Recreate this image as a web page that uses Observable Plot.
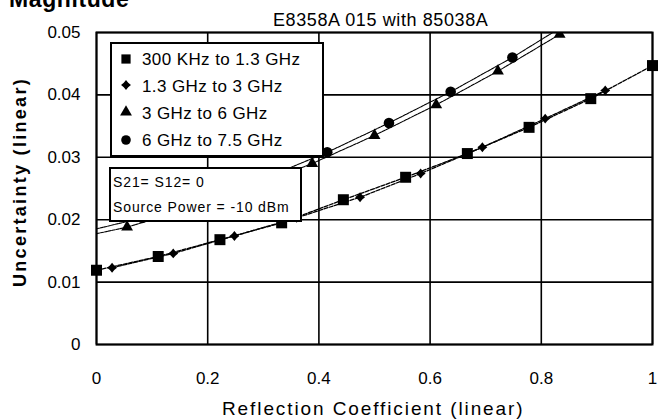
<!DOCTYPE html>
<html><head><meta charset="utf-8">
<script src="https://cdn.jsdelivr.net/npm/d3@7"></script>
<script src="https://cdn.jsdelivr.net/npm/@observablehq/plot@0.6"></script>
<style>
body{margin:0;background:#fff;}
#wrap{position:relative;width:660px;height:419px;overflow:hidden;font-family:"Liberation Sans",Arial,sans-serif;color:#000;background:#fff;}
#wrap svg.plot{position:absolute;left:0;top:0;}
.abs{position:absolute;white-space:nowrap;line-height:1;}
.box{position:absolute;box-sizing:border-box;border:2px solid #000;background:#fff;}
</style></head><body><div id="wrap"></div>
<script>
// ---- data ----
const seriesNames = ["300 KHz to 1.3 GHz", "1.3 GHz to 3 GHz", "3 GHz to 6 GHz", "6 GHz to 7.5 GHz"];
const xTicks = [0, 0.2, 0.4, 0.6, 0.8, 1];
const yTicks = [0, 0.01, 0.02, 0.03, 0.04, 0.05];
// 300 KHz to 1.3 GHz (squares)
const sqX = [0, 0.111, 0.222, 0.333, 0.444, 0.556, 0.667, 0.778, 0.889, 1.0];
const sqY = [0.0119, 0.0141, 0.0168, 0.0195, 0.0232, 0.0268, 0.0306, 0.0348, 0.0394, 0.0447];
// 1.3 GHz to 3 GHz (diamonds)
const diX = [0.028, 0.138, 0.248, 0.36, 0.474, 0.583, 0.694, 0.807, 0.915];
const diY = [0.0123, 0.0146, 0.0174, 0.0203, 0.0236, 0.0274, 0.0316, 0.0362, 0.0407];
// 3 GHz to 6 GHz (triangles)
const triX = [-0.056, 0.055, 0.166, 0.277, 0.388, 0.5, 0.611, 0.722, 0.833];
const triY = [0.0167, 0.0188, 0.0218, 0.0252, 0.029, 0.0335, 0.0384, 0.0438, 0.0497];
// 6 GHz to 7.5 GHz (circles)
const cirX = [-0.029, 0.082, 0.193, 0.304, 0.415, 0.526, 0.637, 0.748, 0.859];
const cirY = [0.0179, 0.0203, 0.0233, 0.0267, 0.0308, 0.0355, 0.0405, 0.046, 0.0521];

const titleText = "Magnitude";
const subtitleText = "E8358A 015 with 85038A";
const xLabel = "Reflection Coefficient (linear)";
const yLabel = "Uncertainty (linear)";
const notes = ["S21= S12= 0", "Source Power = -10 dBm"];

// ---- helpers ----
const toRows = (xs, ys) => xs.map((x, i) => ({x, y: ys[i]}));
const star4 = {
  draw(ctx, size) {
    const r = Math.sqrt(size / Math.PI) * 1.6, i = r * 0.45;
    ctx.moveTo(0, -r); ctx.lineTo(i, -i); ctx.lineTo(r, 0); ctx.lineTo(i, i);
    ctx.lineTo(0, r); ctx.lineTo(-i, i); ctx.lineTo(-r, 0); ctx.lineTo(-i, -i); ctx.closePath();
  }
};
const series = [
  {rows: toRows(sqX, sqY), symbol: "square", r: 6.2, dash: "4,1.5", sw: 1.3, clip: false},
  {rows: toRows(diX, diY), symbol: star4, r: 3.1, dash: "4,1.5", sw: 1.3, clip: false},
  {rows: toRows(triX, triY), symbol: "triangle", r: 4.4, dash: "3,1", sw: 1.1, clip: true},
  {rows: toRows(cirX, cirY), symbol: "circle", r: 5.3, dash: "3,1", sw: 1.1, clip: true}
];

const marks = [
  Plot.gridX(xTicks, {stroke: "#000", strokeOpacity: 1, strokeWidth: 1.6}),
  Plot.gridY(yTicks, {stroke: "#000", strokeOpacity: 1, strokeWidth: 1.6})
];
for (const s of series) {
  marks.push(Plot.line(s.rows, {x: "x", y: "y", stroke: "#000", strokeWidth: s.sw, strokeDasharray: s.dash, clip: s.clip}));
}
for (const s of series) {
  marks.push(Plot.dot(s.rows, {x: "x", y: "y", symbol: s.symbol, r: s.r, fill: "#000", stroke: "none", clip: s.clip}));
}
marks.push(Plot.frame({stroke: "#000", strokeWidth: 2}));

const chart = Plot.plot({
  width: 660, height: 419,
  marginLeft: 96, marginRight: 8, marginTop: 32, marginBottom: 75,
  style: {fontFamily: "Liberation Sans, Arial, sans-serif", fontSize: "17px", color: "#000", background: "transparent"},
  x: {domain: [0, 1], ticks: xTicks, tickSize: 0, tickPadding: 27, label: null, tickFormat: d => String(d)},
  y: {domain: [0, 0.05], ticks: yTicks, tickSize: 0, tickPadding: 16, label: null, tickFormat: d => String(d)},
  marks
});
chart.classList.add("plot");
const wrap = document.getElementById("wrap");
wrap.appendChild(chart);

function addText(text, left, baseline, size, opts = {}) {
  const d = document.createElement("div");
  d.className = "abs";
  d.textContent = text;
  d.style.fontSize = size + "px";
  d.style.left = left + "px";
  d.style.top = (baseline - 0.8465 * size) + "px";
  if (opts.bold) d.style.fontWeight = "bold";
  if (opts.ls) d.style.letterSpacing = opts.ls + "px";
  wrap.appendChild(d);
  return d;
}
function addBox(l, t, r, b) {
  const d = document.createElement("div");
  d.className = "box";
  Object.assign(d.style, {left: l + "px", top: t + "px", width: (r - l) + "px", height: (b - t) + "px"});
  wrap.appendChild(d);
}

// title & subtitle
addText(titleText, 9, 7, 23, {bold: true, ls: 0.6});
addText(subtitleText, 273, 26.5, 18, {ls: 0.6});

// legend
addBox(110, 42, 324, 157);
const legBase = [65.5, 92, 119.3, 146.7];
series.forEach((s, i) => {
  const svg = d3.select(wrap).append("svg")
    .style("position", "absolute").style("left", "116px").style("top", (legBase[i] - 7 - 10) + "px")
    .attr("width", 20).attr("height", 20);
  const sym = typeof s.symbol === "string"
    ? {square: d3.symbolSquare, triangle: d3.symbolTriangle, circle: d3.symbolCircle}[s.symbol]
    : s.symbol;
  const rr = s.symbol === "square" ? 5.2 : s.symbol === "circle" ? 4.8 : s.r;
  svg.append("path").attr("transform", "translate(10,10)")
    .attr("d", d3.symbol(sym, rr * rr * Math.PI)()).attr("fill", "#000");
  addText(seriesNames[i], 142, legBase[i], 17, {ls: 0.4});
});

// note box
addBox(109, 167, 302, 222);
addText(notes[0], 113, 187, 14, {ls: 0.9});
addText(notes[1], 113, 212, 14, {ls: 0.9});

// axis labels
addText(xLabel, 222, 415, 19, {ls: 1.9});
const yl = document.createElement("div");
yl.className = "abs";
yl.textContent = yLabel;
Object.assign(yl.style, {fontSize: "18px", fontWeight: "bold", letterSpacing: "2.3px", left: "20px", top: "182px",
  transform: "translate(-50%,-50%) rotate(-90deg)"});
wrap.appendChild(yl);
</script></body></html>
